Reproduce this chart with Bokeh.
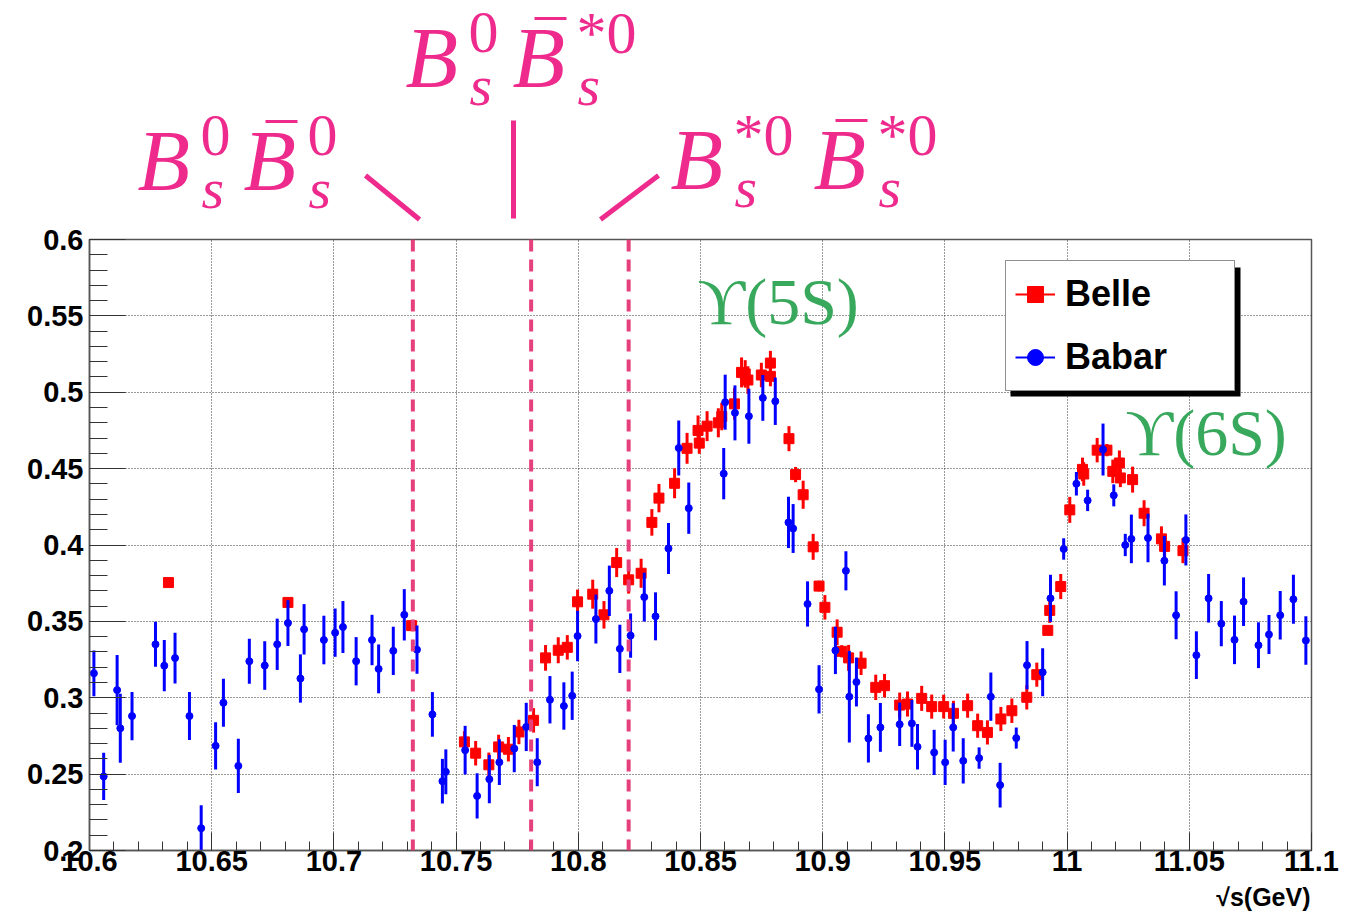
from bokeh.plotting import figure
from bokeh.layouts import column
from bokeh.models import (FixedTicker, Label, Span, Legend, LegendItem,
                          BoxAnnotation, ColumnDataSource, Range1d)
from bokeh.core.properties import value
from bokeh.embed import file_html
from bokeh.resources import INLINE
import numpy as np

# ---------------- data ----------------
belle_x = [10.6323, 10.6812, 10.7318, 10.7534, 10.758, 10.7634, 10.7674, 10.7714, 10.7757,
           10.7817, 10.7866, 10.7918, 10.7955, 10.7997, 10.8059, 10.8105, 10.8157, 10.8206,
           10.8257, 10.8301, 10.833, 10.8394, 10.8445, 10.849, 10.8495, 10.8527, 10.8573,
           10.8587, 10.8639, 10.8668, 10.8683, 10.8694, 10.8749, 10.8786, 10.8786, 10.8862,
           10.8889, 10.892, 10.8961, 10.8985, 10.9009, 10.9059, 10.9078, 10.9106, 10.9157,
           10.9217, 10.9253, 10.9315, 10.9347, 10.9405, 10.9446, 10.9495, 10.9535, 10.9593,
           10.9634, 10.9674, 10.9729, 10.9774, 10.9835, 10.9876, 10.9921, 10.9929, 10.9974,
           11.0011, 11.0063, 11.0068, 11.0123, 11.0163, 11.0187, 11.0214, 11.0218, 11.0268,
           11.0315, 11.0386, 11.0399, 11.0474]
belle_y = [0.3754, 0.3624, 0.3472, 0.2711, 0.2637, 0.2561, 0.2678, 0.2663, 0.2776,
           0.2852, 0.3261, 0.3311, 0.333, 0.3628, 0.3678, 0.3543, 0.3885, 0.3772,
           0.3815, 0.4148, 0.4307, 0.4404, 0.4633, 0.475, 0.4667, 0.4778, 0.480,
           0.4841, 0.4924, 0.513, 0.512, 0.508, 0.5113, 0.5191, 0.5104, 0.4696,
           0.4461, 0.4329, 0.3988, 0.3731, 0.3592, 0.3429, 0.3304, 0.3261, 0.3226,
           0.3068, 0.3079, 0.2952, 0.2959, 0.2996, 0.2942, 0.2942, 0.2898, 0.2948,
           0.2817, 0.2773, 0.2861, 0.2915, 0.3003, 0.3151, 0.3441, 0.3572, 0.3728,
           0.423, 0.4495, 0.4465, 0.4621, 0.4621, 0.4482, 0.4537, 0.4439, 0.4428,
           0.4208, 0.404, 0.3991, 0.3963]
belle_err = [0.002, 0.003, 0.003, 0.007, 0.008, 0.008, 0.008, 0.008, 0.008,
             0.008, 0.0084, 0.0085, 0.008, 0.008, 0.0095, 0.009, 0.0095, 0.009,
             0.0095, 0.0087, 0.0093, 0.0098, 0.0101, 0.0098, 0.007, 0.0098, 0.0095,
             0.009, 0.0103, 0.0098, 0.009, 0.009, 0.008, 0.008, 0.0065, 0.0082,
             0.005, 0.0092, 0.0085, 0.0035, 0.008, 0.0084, 0.004, 0.0085, 0.0077,
             0.0083, 0.0077, 0.0082, 0.0082, 0.0082, 0.0079, 0.0078, 0.0082, 0.0079,
             0.0079, 0.0079, 0.0079, 0.008, 0.008, 0.0079, 0.002, 0.0082, 0.0082,
             0.0085, 0.0077, 0.0077, 0.008, 0.004, 0.0077, 0.0082, 0.006, 0.0085,
             0.0085, 0.0082, 0.008, 0.0082]

babar_x = [10.6018, 10.6058, 10.6113, 10.6126, 10.6174, 10.627, 10.6306, 10.635, 10.6409,
           10.6457, 10.6516, 10.6548, 10.6609, 10.6654, 10.6717, 10.6768, 10.6812, 10.6863,
           10.6878, 10.6959, 10.7005, 10.7037, 10.7091, 10.7156, 10.7183, 10.7243, 10.7288,
           10.734, 10.7403, 10.7444, 10.7458, 10.7537, 10.7586, 10.7636, 10.7677, 10.7738,
           10.7787, 10.7832, 10.7884, 10.7941, 10.7975, 10.7997, 10.8072, 10.8127, 10.817,
           10.8214, 10.827, 10.8316, 10.8369, 10.8411, 10.8452, 10.8595, 10.8601, 10.8641,
           10.8698, 10.8755, 10.8806, 10.886, 10.8879, 10.8938, 10.8985, 10.9052, 10.9095,
           10.9109, 10.9138, 10.9187, 10.9236, 10.9315, 10.9365, 10.9388, 10.9456, 10.9501,
           10.9534, 10.9575, 10.964, 10.9688, 10.9726, 10.9792, 10.9836, 10.990, 10.9932,
           10.9986, 11.0038, 11.0084, 11.0147, 11.0191, 11.0238, 11.0263, 11.0331, 11.0398,
           11.0446, 11.0486, 11.0529, 11.0579, 11.0631, 11.0685, 11.0722, 11.0783, 11.0826,
           11.0872, 11.0926, 11.0977]
babar_y = [0.316, 0.2485, 0.305, 0.280, 0.288, 0.335, 0.321, 0.326, 0.288,
           0.2146, 0.2685, 0.2967, 0.2554, 0.3239, 0.3211, 0.335, 0.3489, 0.3126,
           0.3448, 0.3378, 0.3426, 0.3463, 0.3239, 0.3378, 0.3189, 0.3307, 0.3543,
           0.3315, 0.2891, 0.2454, 0.2515, 0.2657, 0.2357, 0.2467, 0.2578, 0.2667,
           0.2809, 0.2578, 0.2987, 0.2946, 0.3013, 0.3404, 0.3515, 0.370, 0.332,
           0.3407, 0.3659, 0.3533, 0.3977, 0.4635, 0.4241, 0.4467, 0.4935, 0.4865,
           0.4843, 0.4963, 0.4941, 0.4148, 0.4108, 0.3614, 0.3055, 0.331, 0.3831,
           0.3007, 0.3103, 0.2734, 0.2806, 0.2826, 0.2832, 0.2679, 0.2642, 0.2577,
           0.2806, 0.2587, 0.2605, 0.3007, 0.2428, 0.2736, 0.3213, 0.3167, 0.3651,
           0.3974, 0.4401, 0.4292, 0.4625, 0.4325, 0.400, 0.404, 0.4046, 0.3897,
           0.354, 0.4033, 0.3279, 0.3651, 0.3485, 0.3379, 0.3629, 0.3344, 0.3414,
           0.354, 0.3645, 0.3375]
babar_err = [0.015, 0.0155, 0.023, 0.0226, 0.0158, 0.0147, 0.0168, 0.0166, 0.0157,
             0.015, 0.0154, 0.0157, 0.0178, 0.0148, 0.0159, 0.0168, 0.015, 0.0158,
             0.0165, 0.0159, 0.0158, 0.017, 0.0158, 0.0165, 0.016, 0.0158, 0.0168,
             0.0158, 0.0146, 0.0146, 0.0147, 0.0159, 0.0148, 0.0158, 0.015, 0.0155,
             0.0158, 0.0157, 0.0155, 0.0155, 0.0158, 0.0165, 0.016, 0.0165, 0.0158,
             0.0145, 0.016, 0.0157, 0.0167, 0.018, 0.0168, 0.0168, 0.018, 0.018,
             0.018, 0.015, 0.0155, 0.0168, 0.016, 0.0148, 0.0158, 0.0155, 0.0128,
             0.03, 0.016, 0.0158, 0.016, 0.0142, 0.0153, 0.0149, 0.0148, 0.0148,
             0.0158, 0.0148, 0.007, 0.0158, 0.0146, 0.0069, 0.0158, 0.0157, 0.0154,
             0.007, 0.0077, 0.007, 0.017, 0.0072, 0.0073, 0.0159, 0.0159, 0.0162,
             0.0157, 0.0167, 0.0156, 0.0159, 0.0148, 0.0159, 0.0159, 0.015, 0.0128,
             0.0159, 0.016, 0.0159]

thresholds = [10.7323, 10.7807, 10.8206]   # Bs0 Bs0bar, Bs0 Bs*0bar, Bs*0 Bs*0bar

x_ticks = [10.6, 10.65, 10.7, 10.75, 10.8, 10.85, 10.9, 10.95, 11.0, 11.05, 11.1]
x_tick_labels = ["10.6", "10.65", "10.7", "10.75", "10.8", "10.85", "10.9", "10.95",
                 "11", "11.05", "11.1"]
y_ticks = [0.2, 0.25, 0.3, 0.35, 0.4, 0.45, 0.5, 0.55, 0.6]
y_tick_labels = ["0.2", "0.25", "0.3", "0.35", "0.4", "0.45", "0.5", "0.55", "0.6"]

# ---------------- layout ----------------
W = 1347
TOP_H = 222            # annotation strip above the plot
FL, FR = 89, 1311      # frame left / right (canvas px)
FRAME_H = 611
MAIN_TOP, MAIN_BOT = 17, 33
MAIN_H = MAIN_TOP + FRAME_H + MAIN_BOT
BOT_H = 911 - TOP_H - MAIN_H
FT = TOP_H + MAIN_TOP
FB = FT + FRAME_H
X0, X1, Y0, Y1 = 10.6, 11.1, 0.2, 0.6
BASE_SHIFT = 0.35      # alphabetic-baseline correction (in em)


def X(px):
    return X0 + (px - FL) * (X1 - X0) / (FR - FL)


def Y(py):
    return Y0 + (FB - py) * (Y1 - Y0) / (FB - FT)


def strip(h):
    # frames of a column are aligned, so the strip frame spans canvas px FL..FR
    f = figure(width=W, height=h, x_range=Range1d(FL, FR), y_range=Range1d(h, 0),
               output_backend="svg", toolbar_location=None, title=None,
               x_axis_location=None, y_axis_location=None, min_border=0)
    f.grid.visible = False
    f.outline_line_color = None
    f.background_fill_color = "white"
    f.border_fill_color = "white"
    return f


# ---------------- main plot ----------------
p = figure(width=W, height=MAIN_H, x_range=(X0, X1), y_range=(Y0, Y1),
           output_backend="svg", toolbar_location=None, title=None,
           min_border_left=FL, min_border_right=W - FR,
           min_border_top=MAIN_TOP, min_border_bottom=MAIN_BOT)
p.background_fill_color = "white"
p.border_fill_color = "white"
p.outline_line_color = "#555555"
p.outline_line_width = 1.5

x_minor = [round(v, 3) for v in np.arange(10.6, 11.1001, 0.01)]
y_minor = [round(v, 3) for v in np.arange(0.2, 0.6001, 0.01)]
xt = FixedTicker(ticks=x_ticks, minor_ticks=x_minor)
yt = FixedTicker(ticks=y_ticks, minor_ticks=y_minor)
p.xaxis.ticker = xt
p.yaxis.ticker = yt
p.xgrid.ticker = xt
p.ygrid.ticker = yt
p.xaxis.major_label_overrides = dict(zip(x_ticks, x_tick_labels))
p.yaxis.major_label_overrides = dict(zip(y_ticks, y_tick_labels))

for ax, tin in ((p.xaxis, 18), (p.yaxis, 36)):
    ax.major_tick_in = tin
    ax.major_tick_out = 0
    ax.minor_tick_in = tin // 2
    ax.minor_tick_out = 0
    ax.major_tick_line_color = "#333333"
    ax.minor_tick_line_color = "#333333"
    ax.axis_line_color = "#555555"
    ax.axis_line_width = 1.5
    ax.major_label_text_font = "Liberation Sans"
    ax.major_label_text_font_style = "bold"
    ax.major_label_text_font_size = "29px"
    ax.major_label_text_color = "black"
p.xaxis.major_label_standoff = 0
p.yaxis.major_label_standoff = 6

for g in (p.xgrid, p.ygrid):
    g.grid_line_color = "#333333"
    g.grid_line_width = 1
    g.grid_line_dash = "1 2"

for t in thresholds:
    p.add_layout(Span(location=t, dimension="height", line_color="#e6407c",
                      line_width=4, line_dash="12 8"))

bsrc = ColumnDataSource(dict(x=belle_x, y=belle_y,
                             lo=np.array(belle_y) - np.array(belle_err),
                             hi=np.array(belle_y) + np.array(belle_err)))
asrc = ColumnDataSource(dict(x=babar_x, y=babar_y,
                             lo=np.array(babar_y) - np.array(babar_err),
                             hi=np.array(babar_y) + np.array(babar_err)))

p.segment(x0="x", y0="lo", x1="x", y1="hi", source=bsrc, line_color="red", line_width=3)
belle_pts = p.scatter("x", "y", source=bsrc, marker="square", size=10,
                      fill_color="red", line_color="red")
p.segment(x0="x", y0="lo", x1="x", y1="hi", source=asrc, line_color="blue", line_width=3)
babar_pts = p.scatter("x", "y", source=asrc, marker="circle", size=7,
                      fill_color="blue", line_color="blue")

belle_line = p.line(x=[np.nan], y=[np.nan], line_color="red", line_width=2)
babar_line = p.line(x=[np.nan], y=[np.nan], line_color="blue", line_width=2)

p.add_layout(BoxAnnotation(left=X(1010), right=X(1240), top=Y(267), bottom=Y(396),
                           fill_color="black", fill_alpha=1, line_color=None))
legend = Legend(items=[LegendItem(label="Belle", renderers=[belle_line, belle_pts]),
                       LegendItem(label="Babar", renderers=[babar_line, babar_pts])],
                location=(1005 - FL, FB - 391), orientation="vertical",
                padding=9, spacing=15, margin=0, glyph_width=40, glyph_height=40,
                label_height=48, label_width=160, label_standoff=10,
                label_text_font="Liberation Sans", label_text_font_style="bold",
                label_text_font_size="36px", label_text_color="black",
                border_line_color="#222222", border_line_width=1.5,
                background_fill_color="white", background_fill_alpha=1)
p.add_layout(legend, "center")

GREEN = "#38a85c"
UPS_SIZE = 66
shift = 0.33 * UPS_SIZE
p.add_layout(Label(x=X(697), y=Y(323 - shift), text="ϒ(5S)", text_font="Liberation Serif",
                   text_font_size=f"{UPS_SIZE}px", text_color=GREEN,
                   text_baseline="alphabetic"))
p.add_layout(Label(x=X(1125), y=Y(454 - shift), text="ϒ(6S)", text_font="Liberation Serif",
                   text_font_size=f"{UPS_SIZE}px", text_color=GREEN,
                   text_baseline="alphabetic"))

# ---------------- annotation strip above ----------------
top = strip(TOP_H)
PINK = "#ee2a8c"


def piece(px, py, txt, size, italic=True):
    top.text(x=[px], y=[py - BASE_SHIFT * size], text=[txt],
             text_font=value("Liberation Serif"),
             text_font_style="italic" if italic else "normal",
             text_font_size=f"{size}px", text_color=PINK,
             text_baseline="alphabetic", text_align="left")


def pair(bx, base, sup1, bx2, sup2):
    piece(bx, base, "B", 86)
    piece(bx + 63, base - 35, sup1, 60, italic=False)
    piece(bx + 64, base + 17, "s", 58)
    piece(bx2, base, "B", 86)
    top.segment(x0=[bx2 + 22], y0=[base - 70], x1=[bx2 + 54], y1=[base - 70],
                line_color=PINK, line_width=3)
    piece(bx2 + 64, base - 35, sup2, 60, italic=False)
    piece(bx2 + 65, base + 17, "s", 58)


pair(137, 191, "0", 243, "0")
pair(405, 88, "0", 512, "*0")
pair(670, 190, "*0", 813, "*0")

top.segment(x0=[365, 513, 600], y0=[175, 120, 219], x1=[419, 513, 658], y1=[219, 218, 175],
            line_color=PINK, line_width=5)

# ---------------- axis title strip below ----------------
TITLE_SIZE = 25
bot = strip(BOT_H)
bot.text(x=[1310], y=[0.905 * TITLE_SIZE - BASE_SHIFT * TITLE_SIZE], text=["√s(GeV)"],
         text_font=value("Liberation Sans"), text_font_style="bold",
         text_font_size=f"{TITLE_SIZE}px", text_color="black", text_align="right",
         text_baseline="alphabetic")

layout = column(top, p, bot, spacing=0)
open("out.html", "w").write(file_html(layout, INLINE))
